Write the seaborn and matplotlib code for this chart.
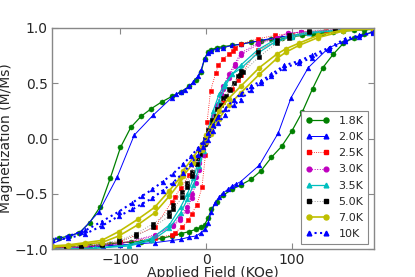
import numpy as np
import pandas as pd
import matplotlib
matplotlib.use("Agg")
import matplotlib.pyplot as plt
import seaborn as sns
from matplotlib.lines import Line2D

# ---- data (field in KOe, M/Ms) ----
temps = ["1.8K", "2.0K", "2.5K", "3.0K", "3.5K", "5.0K", "7.0K", "10K"]

# 1.8K
h18_dn = [194, 184, 172, 160, 148, 136, 124, 112, 100, 88, 76, 64, 52, 40, 30, 20, 12, 6, 2,
          -2, -6, -12, -20, -30, -40, -52, -64, -76, -88, -100, -112, -124, -136, -148, -160, -172, -180]
m18_dn = [0.985, 0.98, 0.975, 0.97, 0.96, 0.95, 0.94, 0.93, 0.92, 0.91, 0.90, 0.88, 0.87, 0.85, 0.84, 0.83, 0.82, 0.80, 0.78,
          0.72, 0.60, 0.53, 0.47, 0.42, 0.38, 0.33, 0.27, 0.20, 0.10, -0.08, -0.36, -0.62, -0.76, -0.85, -0.88, -0.90, -0.92]
h18_up = [-180, -172, -160, -148, -136, -124, -112, -100, -88, -76, -64, -52, -40, -30, -20, -12, -6, -2,
          2, 6, 12, 20, 30, 40, 52, 64, 76, 88, 100, 112, 124, 136, 148, 160, 172, 184, 194]
m18_up = [-0.99, -0.985, -0.98, -0.975, -0.97, -0.96, -0.95, -0.94, -0.935, -0.93, -0.92, -0.90, -0.88, -0.86, -0.84, -0.82, -0.80, -0.78,
          -0.72, -0.64, -0.57, -0.51, -0.46, -0.42, -0.37, -0.29, -0.17, -0.07, 0.07, 0.24, 0.45, 0.64, 0.76, 0.86, 0.91, 0.94, 0.96]

# 2.0K
h20_dn = [194, 150, 120, 100, 80, 60, 40, 30, 20, 12, 6, 2, -2, -6, -10, -15, -20, -25, -30, -35, -40,
          -62, -84, -104, -125, -146, -180]
m20_dn = [0.99, 0.98, 0.95, 0.93, 0.91, 0.88, 0.85, 0.84, 0.82, 0.81, 0.79, 0.77, 0.72, 0.62, 0.56, 0.51, 0.47, 0.44, 0.42, 0.40, 0.37,
          0.21, 0.03, -0.35, -0.66, -0.84, -0.95]
h20_up = [-180, -146, -120, -100, -80, -60, -40, -30, -20, -12, -6, -2, 2, 6, 10, 15, 20, 25, 30, 35, 40,
          62, 84, 99, 119, 143, 162, 194]
m20_up = [-0.99, -0.98, -0.97, -0.96, -0.95, -0.94, -0.92, -0.91, -0.89, -0.88, -0.85, -0.82, -0.76, -0.66, -0.58, -0.53, -0.49, -0.46, -0.43, -0.41, -0.39,
          -0.24, 0.05, 0.37, 0.64, 0.82, 0.88, 0.96]

# 2.5K
h25_dn = [194, 150, 110, 80, 60, 40, 34, 31, 26, 20, 14, 11, 5, 1, -1, -5, -11, -17, -21, -28, -37, -40,
          -60, -100, -140, -180]
m25_dn = [0.99, 0.98, 0.96, 0.93, 0.90, 0.85, 0.82, 0.79, 0.76, 0.72, 0.66, 0.59, 0.43, 0.15, -0.15, -0.44, -0.60, -0.68, -0.74, -0.80, -0.85, -0.87,
          -0.90, -0.94, -0.97, -0.99]
h25_up = [-180, -140, -100, -60, -40, -37, -30, -20, -10, -4, 0, 4, 10, 20, 30, 37, 40, 60, 100, 140, 194]
m25_up = [-0.99, -0.97, -0.93, -0.80, -0.57, -0.53, -0.45, -0.33, -0.18, -0.07, 0.0, 0.07, 0.18, 0.33, 0.45, 0.53, 0.57, 0.80, 0.93, 0.97, 0.99]

# 3.0K
h30_dn = [194, 150, 110, 95, 82, 60, 40, 33, 26, 20, 17, 12, 8, 4, 0, -4, -8, -12, -17, -23, -31, -39,
          -60, -100, -140, -180]
m30_dn = [0.99, 0.98, 0.96, 0.95, 0.91, 0.86, 0.77, 0.67, 0.58, 0.47, 0.40, 0.30, 0.20, 0.10, 0.01, -0.10, -0.22, -0.35, -0.50, -0.62, -0.72, -0.78,
          -0.88, -0.95, -0.98, -0.99]
h30_up = [-180, -140, -100, -60, -39, -31, -23, -17, -12, -8, -4, 0, 4, 8, 12, 17, 20, 26, 33, 40,
          60, 82, 95, 110, 150, 194]
m30_up = [-0.99, -0.98, -0.95, -0.87, -0.79, -0.74, -0.65, -0.54, -0.40, -0.28, -0.15, -0.04, 0.07, 0.18, 0.29, 0.40, 0.45, 0.55, 0.65, 0.75,
          0.85, 0.91, 0.95, 0.96, 0.98, 0.99]

# 3.5K
h35_dn = [194, 160, 120, 100, 80, 60, 40, 30, 22, 15, 8, 3, -3, -8, -15, -22, -30, -43, -63, -90, -130, -180]
m35_dn = [0.99, 0.98, 0.96, 0.93, 0.89, 0.80, 0.66, 0.58, 0.50, 0.40, 0.25, 0.10, -0.05, -0.18, -0.36, -0.50, -0.62, -0.78, -0.90, -0.96, -0.99, -1.0]
h35_up = [-180, -130, -90, -63, -43, -30, -22, -15, -8, -3, 3, 8, 15, 22, 30, 40, 60, 80, 100, 120, 160, 194]
m35_up = [-1.0, -0.99, -0.97, -0.92, -0.81, -0.67, -0.55, -0.42, -0.25, -0.11, 0.04, 0.17, 0.34, 0.47, 0.58, 0.63, 0.77, 0.87, 0.92, 0.95, 0.98, 0.99]

# 5.0K
h50_dn = [194, 150, 120, 97, 82, 60, 40, 37, 32, 27, 20, 13, 7, 2, -2, -7, -11, -17, -23, -28, -39, -43,
          -62, -82, -102, -122, -146, -163, -180]
m50_dn = [0.99, 0.99, 0.97, 0.93, 0.89, 0.78, 0.61, 0.56, 0.50, 0.45, 0.37, 0.27, 0.17, 0.08, 0.0, -0.10, -0.18, -0.30, -0.40, -0.48, -0.60, -0.66,
          -0.77, -0.86, -0.92, -0.95, -0.97, -0.99, -1.0]
h50_up = [-180, -163, -146, -122, -102, -82, -62, -43, -39, -28, -23, -17, -11, -7, -2, 2, 7, 11, 17, 23, 28,
          39, 43, 62, 82, 97, 120, 150, 194]
m50_up = [-1.0, -0.99, -0.97, -0.96, -0.93, -0.88, -0.80, -0.70, -0.64, -0.53, -0.44, -0.34, -0.23, -0.14, -0.05, 0.03, 0.12, 0.2, 0.3, 0.38, 0.44,
          0.57, 0.60, 0.74, 0.86, 0.91, 0.96, 0.98, 0.99]

# 7.0K
h70_dn = [194, 160, 130, 108, 93, 82, 62, 40, 26, 15, 5, 0, -5, -15, -27, -31, -43, -60, -80, -102, -122, -141, -161, -180]
m70_dn = [0.99, 0.98, 0.93, 0.86, 0.81, 0.76, 0.64, 0.47, 0.36, 0.25, 0.10, 0.03, -0.05, -0.17, -0.29, -0.36, -0.47, -0.62, -0.73, -0.84, -0.92, -0.94, -0.96, -0.97]
h70_up = [-180, -161, -141, -122, -102, -80, -60, -43, -31, -27, -15, -5, 0, 5, 15, 26, 40, 62, 82, 93, 108, 130, 160, 194]
m70_up = [-0.98, -0.97, -0.95, -0.94, -0.88, -0.78, -0.67, -0.52, -0.40, -0.34, -0.22, -0.10, -0.03, 0.04, 0.18, 0.30, 0.41, 0.58, 0.72, 0.78, 0.84, 0.91, 0.97, 0.99]

# 10K
h10_dn = [194, 178, 162, 143, 123, 108, 91, 76, 64, 52, 40, 32, 22, 14, 8, 2, -4, -10, -18, -27, -39, -51, -63, -75, -86,
          -102, -122, -141, -161, -180]
m10_dn = [0.96, 0.93, 0.90, 0.82, 0.75, 0.70, 0.66, 0.58, 0.52, 0.47, 0.40, 0.35, 0.27, 0.19, 0.12, 0.05, -0.03, -0.09, -0.16, -0.23, -0.32, -0.39, -0.46, -0.52, -0.58,
          -0.66, -0.75, -0.83, -0.88, -0.91]
h10_up = [-180, -161, -141, -122, -102, -86, -75, -63, -51, -39, -27, -18, -10, -4, 2, 8, 14, 22, 32, 40, 52, 64, 76, 91,
          108, 123, 143, 162, 178, 194]
m10_up = [-0.92, -0.90, -0.86, -0.79, -0.70, -0.64, -0.59, -0.54, -0.47, -0.40, -0.31, -0.23, -0.15, -0.08, -0.01, 0.07, 0.14, 0.21, 0.30, 0.35, 0.44, 0.50, 0.56, 0.64,
          0.68, 0.73, 0.80, 0.88, 0.92, 0.95]

branches = {
    "1.8K": [(h18_dn, m18_dn), (h18_up, m18_up)],
    "2.0K": [(h20_dn, m20_dn), (h20_up, m20_up)],
    "2.5K": [(h25_dn, m25_dn), (h25_up, m25_up)],
    "3.0K": [(h30_dn, m30_dn), (h30_up, m30_up)],
    "3.5K": [(h35_dn, m35_dn), (h35_up, m35_up)],
    "5.0K": [(h50_dn, m50_dn), (h50_up, m50_up)],
    "7.0K": [(h70_dn, m70_dn), (h70_up, m70_up)],
    "10K": [(h10_dn, m10_dn), (h10_up, m10_up)],
}

rows = []
for t in temps:
    for b, (hs, ms) in enumerate(branches[t]):
        for i, (h, m) in enumerate(zip(hs, ms)):
            rows.append({"temp": t, "branch": b, "idx": i, "field": h, "m": m})
df = pd.DataFrame(rows)

# line color, marker color, marker, linestyle, linewidth, markersize
styles = {
    "1.8K": ("#008000", "#008000", "o", "-", 0.9, 3.6),
    "2.0K": ("#0000ff", "#0000ff", "^", "-", 0.7, 3.4),
    "2.5K": ("#ff0000", "#ff0000", "s", ":", 0.6, 3.3),
    "3.0K": ("#bf00bf", "#bf00bf", "o", ":", 0.7, 3.4),
    "3.5K": ("#00bfbf", "#00bfbf", "^", "-", 0.9, 3.4),
    "5.0K": ("#999999", "#000000", "s", ":", 0.7, 3.4),
    "7.0K": ("#bfbf00", "#bfbf00", "o", "-", 1.2, 3.6),
    "10K": ("#0000ff", "#0000ff", "^", ":", 1.5, 3.4),
}

sns.set_style("ticks")
plt.rcParams["font.family"] = ["DejaVu Sans"]

fig = plt.figure(figsize=(4.15, 2.77), dpi=100)
ax = fig.add_axes([0.125, 0.1, 0.775, 0.8])

handles = []
for t in temps:
    lc, mc, mk, ls, lw, ms = styles[t]
    for b in (0, 1):
        sub = df[(df["temp"] == t) & (df["branch"] == b)].sort_values("idx")
        sns.lineplot(data=sub, x="field", y="m", ax=ax, sort=False, estimator=None,
                     color=lc, linestyle=ls, linewidth=lw, marker=mk, markersize=ms,
                     markerfacecolor=mc, markeredgecolor=mc, markeredgewidth=0.4,
                     legend=False)
    handles.append(Line2D([0], [0], color=lc, linestyle=ls, linewidth=lw, marker=mk,
                          markersize=ms, markerfacecolor=mc, markeredgecolor=mc))

ax.set_xlim(-180, 195)
ax.set_ylim(-1.0, 1.0)
ax.set_xticks([-100, 0, 100])
ax.set_yticks([-1.0, -0.5, 0.0, 0.5, 1.0])
ax.set_yticklabels(["\u22121.0", "\u22120.5", "0.0", "0.5", "1.0"])
ax.set_xticklabels(["\u2212100", "0", "100"])
ax.tick_params(direction="in", top=True, right=True, length=4, width=0.8,
               color="#888888", labelsize=10, pad=3)
for s in ax.spines.values():
    s.set_color("#888888")
    s.set_linewidth(1.0)

ax.set_xlabel("Applied Field (KOe)", fontsize=10, labelpad=-1)
ax.set_ylabel("Magnetization (M/Ms)", fontsize=10, labelpad=1)

leg = ax.legend(handles, temps, loc="lower right", fontsize=8, numpoints=2,
                handlelength=2.2, labelspacing=0.56, borderaxespad=0.5,
                fancybox=False, framealpha=1.0, borderpad=0.4, handletextpad=0.8)
leg.get_frame().set_edgecolor("#888888")
leg.get_frame().set_linewidth(0.8)

fig.savefig("out.png", dpi=100)
